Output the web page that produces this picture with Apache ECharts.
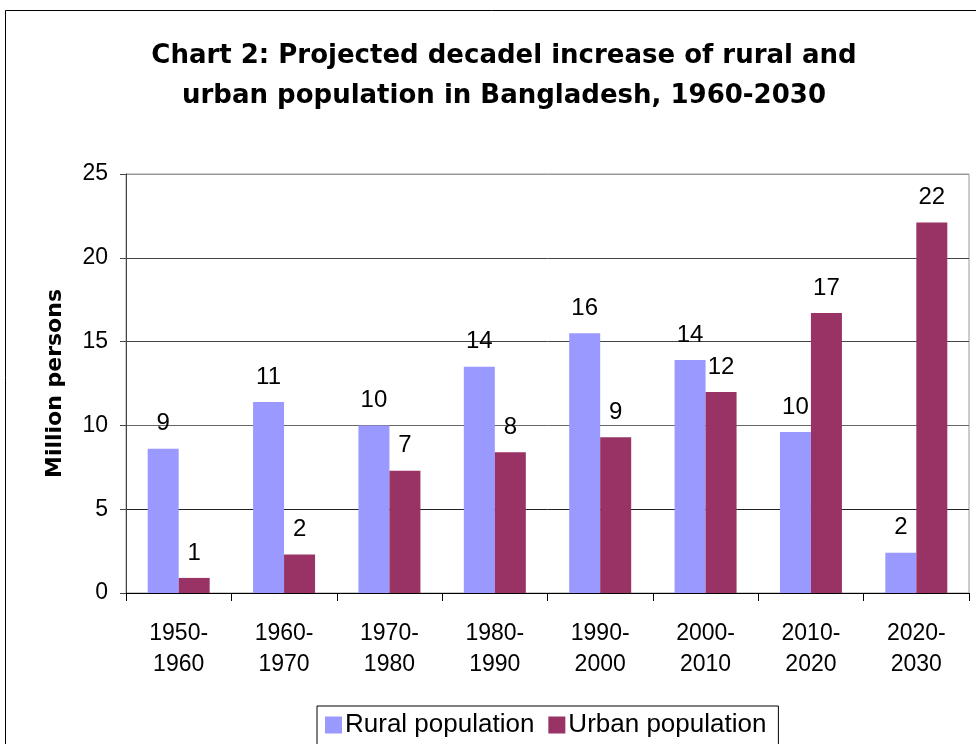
<!DOCTYPE html>
<html>
<head>
<meta charset="utf-8">
<script src="https://cdn.jsdelivr.net/npm/echarts@6/dist/echarts.min.js"></script>
<style>
  html, body { margin: 0; padding: 0; background: #fff; }
  #chart { width: 976px; height: 744px; }
</style>
</head>
<body>
<div id="chart"></div>
<script>
const categories = ['1950-\n1960', '1960-\n1970', '1970-\n1980', '1980-\n1990', '1990-\n2000', '2000-\n2010', '2010-\n2020', '2020-\n2030']
const rural = [8.6, 11.4, 10.0, 13.5, 15.5, 13.9, 9.6, 2.4]
const urban = [0.9, 2.3, 7.3, 8.4, 9.3, 12.0, 16.7, 22.1]
const yTicks = [0, 5, 10, 15, 20, 25]

const font = 'Liberation Sans, Arial, sans-serif'
const boldFont = 'DejaVu Sans, Liberation Sans, sans-serif'
const chart = echarts.init(document.getElementById('chart'))

const labelStyle = {
  show: true,
  position: 'top',
  distance: 13,
  fontFamily: font,
  fontSize: 24,
  color: '#000',
  formatter: p => Math.round(p.value)
}

chart.setOption({
  animation: false,
  title: {
    text: 'Chart 2: Projected decadel increase of rural and\nurban population in Bangladesh, 1960-2030',
    left: 499,
    textAlign: 'center',
    top: 31,
    textStyle: {
      fontFamily: boldFont,
      fontSize: 26,
      fontWeight: 'bold',
      color: '#000',
      lineHeight: 40
    }
  },
  graphic: [{
    type: 'rect',
    shape: { x: 5.5, y: 10.5, width: 1000, height: 800 },
    style: { fill: 'none', stroke: '#000', lineWidth: 1 },
    z: 0
  }],
  legend: {
    bottom: -10,
    left: 317,
    padding: [6, 12, 16, 8],
    borderColor: '#000',
    borderWidth: 1,
    itemWidth: 17,
    itemHeight: 17,
    itemGap: 14,
    icon: 'rect',
    textStyle: { fontFamily: font, fontSize: 26, color: '#000', padding: [0, 0, 0, -2] },
    data: ['Rural population', 'Urban population']
  },
  grid: {
    left: 126,
    right: 7,
    top: 174,
    bottom: 151,
    show: true,
    borderColor: '#999',
    borderWidth: 1
  },
  xAxis: {
    type: 'category',
    data: categories,
    axisLine: { lineStyle: { color: '#000', width: 1 } },
    axisTick: { show: true, length: 8, lineStyle: { color: '#000' } },
    axisLabel: {
      fontFamily: font,
      fontSize: 23,
      color: '#000',
      margin: 25,
      lineHeight: 31
    }
  },
  yAxis: {
    type: 'value',
    min: 0,
    max: 25,
    interval: 5,
    name: 'Million persons',
    nameLocation: 'middle',
    nameGap: 60,
    nameTextStyle: { fontFamily: boldFont, fontSize: 22, fontWeight: 'bold', color: '#000' },
    axisLine: { show: true, lineStyle: { color: '#444', width: 1 } },
    axisTick: { show: true, length: 6, lineStyle: { color: '#444' } },
    axisLabel: {
      fontFamily: font,
      fontSize: 23,
      color: '#000',
      margin: 18,
      formatter: v => (yTicks.includes(v) ? String(v) : '')
    },
    splitLine: {
      lineStyle: { color: ['#222', '#222', '#666', '#444', '#444', '#999'], width: 1 }
    }
  },
  series: [
    {
      name: 'Rural population',
      type: 'bar',
      data: rural,
      barWidth: 31,
      barGap: '0%',
      itemStyle: { color: '#9999FF' },
      label: labelStyle
    },
    {
      name: 'Urban population',
      type: 'bar',
      data: urban,
      barWidth: 31,
      itemStyle: { color: '#993366' },
      label: labelStyle
    }
  ]
})
</script>
</body>
</html>
